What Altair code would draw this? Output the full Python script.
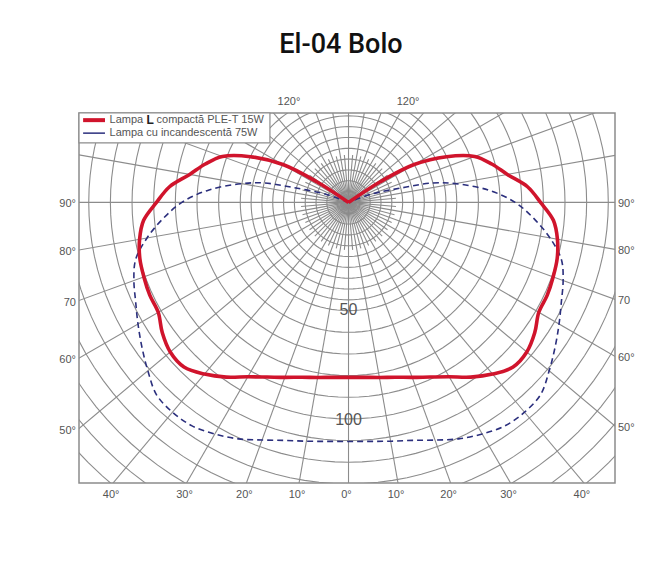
import altair as alt
import pandas as pd

TITLE = "El-04 Bolo"

# Luminous-intensity readings; angle measured from the downward vertical (degrees)
red_angles = [0, 5, 10, 15, 20, 25, 30, 35, 40, 45, 50, 55, 60, 65, 70, 75, 80, 85, 90,
              95, 100, 105, 110, 115, 120, 123, 126]
red_values = [80.8, 81.1, 82.1, 83.6, 86.0, 89.0, 93.0, 98.5, 103.5, 107.5, 107.5, 105.0,
              101.5, 101.3, 100.6, 99.8, 98.0, 95.0, 88.7, 83.0, 74.5, 68.5, 62.0, 50.0,
              35.0, 17.7, 0.0]
blue_angles = [0, 5, 10, 15, 20, 25, 30, 35, 40, 45, 50, 55, 60, 65, 70, 75, 80, 85, 90,
               95, 100, 103, 105, 110, 114]
blue_values = [110.4, 110.8, 112.0, 113.8, 116.8, 120.5, 123.5, 126.0, 126.5, 125.5, 121.0,
               116.5, 112.3, 108.5, 105.5, 101.8, 94.5, 86.0, 77.0, 65.0, 50.0, 40.0, 27.0,
               10.8, 0.0]

legend_parts_1 = ["Lampa", "L", "compactă PLE-T 15W"]
legend_label_2 = "Lampa cu incandescentă 75W"

# polar grid
circle_radii = [5, 10, 15, 20, 25, 30, 35, 40, 45, 50, 60, 70, 80, 90, 100, 110, 120,
                130, 140, 150, 160, 170, 180]
long_spokes = list(range(0, 360, 10))
short_spokes = list(range(5, 360, 10))

side_angles = [90, 80, 70, 60, 50]
side_texts = ["90°", "80°", "70", "60°", "50°"]
bottom_angles = [-40, -30, -20, -10, 0, 10, 20, 30, 40]
top_texts = ["120°", "120°"]
top_x = [-27.5, 27.5]
inner_texts = ["50", "100"]
inner_y = [-49.7, -100.5]

W, H = 536, 370
X_DOM = [-124.5, 123.1]
Y_DOM = [-129.6, 41.3]
GRID = "#8c8c8c"
TXT = "#555555"
NARROW = "Liberation Sans Narrow, Liberation Sans, Arial, sans-serif"

xs = alt.Scale(domain=X_DOM, nice=False, zero=False)
ys = alt.Scale(domain=Y_DOM, nice=False, zero=False)
X = alt.X("x:Q", scale=xs, axis=None)
Y = alt.Y("y:Q", scale=ys, axis=None)

# ---- grid data
grid_rows = []
for i, r in enumerate(circle_radii):
    for a in range(0, 361, 3):
        grid_rows.append({"gid": f"c{i}", "r": r, "a": a, "o": a})
for a in long_spokes:
    grid_rows.append({"gid": f"s{a}", "r": 0, "a": a, "o": 0})
    grid_rows.append({"gid": f"s{a}", "r": 185, "a": a, "o": 1})
for a in short_spokes:
    grid_rows.append({"gid": f"t{a}", "r": 0, "a": a, "o": 0})
    grid_rows.append({"gid": f"t{a}", "r": 22, "a": a, "o": 1})
grid_df = pd.DataFrame(grid_rows)


def polar(ch):
    return ch.transform_calculate(
        x="datum.r * sin(datum.a * PI / 180)",
        y="-datum.r * cos(datum.a * PI / 180)",
    )


grid = polar(alt.Chart(grid_df)).mark_line(
    color=GRID, strokeWidth=1.1, clip=True
).encode(x=X, y=Y, detail="gid:N", order="o:Q")


def curve_df(angles, values):
    rows = []
    for a, v in zip(reversed(angles), reversed(values)):
        rows.append({"a": -a, "r": v})
    for a, v in zip(angles[1:], values[1:]):
        rows.append({"a": a, "r": v})
    return pd.DataFrame(rows)


blue = polar(alt.Chart(curve_df(blue_angles, blue_values))).mark_line(
    color="#2b2f7d", strokeWidth=1.6, strokeDash=[6, 4], interpolate="catmull-rom", clip=True
).encode(x=X, y=Y, order="a:Q")

red = polar(alt.Chart(curve_df(red_angles, red_values))).mark_line(
    color="#d0142c", strokeWidth=3.6, interpolate="catmull-rom", clip=True
).encode(x=X, y=Y, order="a:Q")

# ---- legend box
leg_box = alt.Chart(pd.DataFrame({"x": [-124.5], "x2": [-36.3], "y": [41.3], "y2": [27.5]})).mark_rect(
    fill="white", stroke=GRID, strokeWidth=1.2
).encode(x=X, x2="x2:Q", y=Y, y2="y2:Q")

SW_X, SW_X2, TX = -122.6, -112.5, -110.4
ROW1, ROW2 = 38.0, 32.0
leg_red = alt.Chart(pd.DataFrame({"x": [SW_X], "x2": [SW_X2], "y": [ROW1]})).mark_rule(
    color="#d0142c", strokeWidth=4).encode(x=X, x2="x2:Q", y=Y)
leg_blue = alt.Chart(pd.DataFrame({"x": [SW_X], "x2": [SW_X2], "y": [ROW2]})).mark_rule(
    color="#2b2f7d", strokeWidth=1.5).encode(x=X, x2="x2:Q", y=Y)

row1 = pd.DataFrame({"x": [TX] * 3, "y": [ROW1] * 3, "t": legend_parts_1})
leg_t1a = alt.Chart(row1.iloc[[0]]).mark_text(
    align="left", baseline="middle", font=NARROW, fontSize=11, color=TXT
).encode(x=X, y=Y, text="t:N")
leg_t1b = alt.Chart(row1.iloc[[1]]).mark_text(
    align="left", baseline="middle", dx=37, font=NARROW, fontSize=12, fontWeight="bold", color="#222222"
).encode(x=X, y=Y, text="t:N")
leg_t1c = alt.Chart(row1.iloc[[2]]).mark_text(
    align="left", baseline="middle", dx=47, font=NARROW, fontSize=11, color=TXT
).encode(x=X, y=Y, text="t:N")
leg_t2 = alt.Chart(pd.DataFrame({"x": [TX], "y": [ROW2], "t": [legend_label_2]})).mark_text(
    align="left", baseline="middle", font=NARROW, fontSize=11, color=TXT
).encode(x=X, y=Y, text="t:N")

# ---- angle labels
side_df = pd.DataFrame({"a": side_angles, "t": side_texts})
left_lab = alt.Chart(side_df).transform_calculate(
    y=f"-{-X_DOM[0]} / tan(datum.a * PI / 180)"
).mark_text(align="right", baseline="middle", dy=2, font=NARROW, fontSize=11, color=TXT).encode(
    x=alt.value(-3), y=Y, text="t:N")
right_lab = alt.Chart(side_df).transform_calculate(
    y=f"-{X_DOM[1]} / tan(datum.a * PI / 180)"
).mark_text(align="left", baseline="middle", dy=2, font=NARROW, fontSize=11, color=TXT).encode(
    x=alt.value(W + 3), y=Y, text="t:N")

bot_df = pd.DataFrame({"a": bottom_angles, "t": [f"{abs(a)}°" for a in bottom_angles]})
bot_lab = alt.Chart(bot_df).transform_calculate(
    x=f"{-Y_DOM[0]} * tan(datum.a * PI / 180)"
).mark_text(align="center", baseline="top", dx=-2, font=NARROW, fontSize=11, color=TXT).encode(
    x=X, y=alt.value(H + 6), text="t:N")

top_lab = alt.Chart(pd.DataFrame({"x": top_x, "t": top_texts})).mark_text(
    align="center", baseline="middle", font=NARROW, fontSize=11, color=TXT
).encode(x=X, y=alt.value(-11), text="t:N")

inner_lab = alt.Chart(pd.DataFrame({"x": [0, 0], "y": inner_y, "t": inner_texts})).mark_text(
    align="center", baseline="middle", font=NARROW, fontSize=16, color=TXT
).encode(x=X, y=Y, text="t:N")

title = alt.Chart(pd.DataFrame({"t": [TITLE]})).mark_text(
    align="center", baseline="alphabetic", font="Roboto", fontSize=27, fontWeight=500, color="#111111"
).encode(x=alt.value(W / 2 - 6), y=alt.value(-60), text="t:N")

chart = alt.layer(
    grid, blue, red, leg_box, leg_red, leg_blue, leg_t1a, leg_t1b, leg_t1c, leg_t2,
    left_lab, right_lab, bot_lab, top_lab, inner_lab, title,
).properties(
    width=W, height=H,
    autosize=alt.AutoSizeParams(type="none"),
    padding={"left": 71, "top": 105, "right": 49, "bottom": 60},
    background="white",
).configure_view(stroke=GRID, strokeWidth=1.5)

chart.save("out.html", embed_options={"renderer": "svg", "actions": False})
